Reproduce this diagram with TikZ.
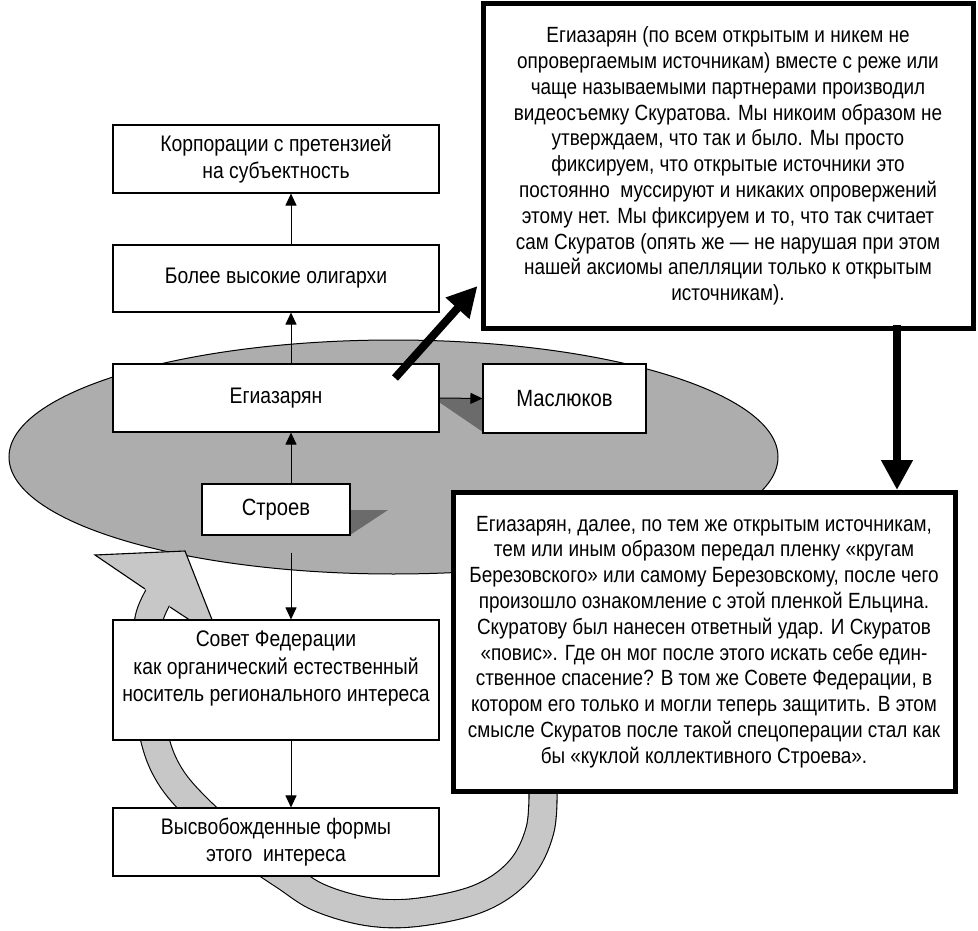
\documentclass[tikz,border=0pt]{standalone}
\usepackage{fontspec}
\setmainfont{Liberation Sans}[FakeStretch=0.86]
\usetikzlibrary{arrows.meta}
\definecolor{ellgray}{gray}{0.68}
\definecolor{bandgray}{gray}{0.78}
\definecolor{shadegray}{gray}{0.42}
\tikzset{
  box/.style={draw, fill=white, line width=1.1pt, minimum width=326pt, minimum height=68pt,
    align=center, inner sep=0pt, font=\fontsize{22.5}{27.5}\selectfont},
  note/.style={draw, fill=white, line width=5pt, align=center, inner sep=0pt,
    font=\fontsize{22}{25.8}\selectfont},
  link/.style={-{Triangle[length=12pt,width=11pt]}, line width=1pt},
  bigarrow/.style={-{Triangle[length=30pt,width=30pt]}, line width=8pt},
}
\begin{document}
\begin{tikzpicture}[x=1pt, y=-1pt]
  \useasboundingbox (0,0) rectangle (978,931);

  \draw[fill=ellgray, line width=1pt] (393.5,457) ellipse [x radius=384.5pt, y radius=117pt];

  % gray loop
  \draw[line width=1.1pt, double=bandgray, double distance=27pt]
    plot[smooth, tension=0.6] coordinates {(543,785) (540,830) (520,870) (480,898) (420,912)
      (370,912) (320,898) (285,876) (237,843) (197,808) (170,776) (155,740) (148,690)
      (147,645) (150,615) (162,590)};
  \fill[bandgray] (185,551) -- (95,555) -- (220,640) -- cycle;
  \draw[line width=1.1pt] (145,589) -- (95,555) -- (185,551) -- (220,640) -- (170,607);

  \fill[shadegray] (433,398) -- (483,398) -- (483,432) -- cycle;
  \fill[shadegray] (350,510) -- (388,510) -- (350,535) -- cycle;

  \node[box] (korp) at (276,159) {Корпорации с претензией\\на субъектность};
  \node[box, minimum height=67pt] (olig) at (276,278.5) {Более высокие олигархи};
  \node[box] (egiaz) at (276,398) {Егиазарян};
  \node[box, minimum width=163pt, minimum height=69pt, font=\fontsize{23.5}{27}\selectfont] (masl) at (564.5,398.5) {Маслюков};
  \node[box, minimum width=148pt, minimum height=51pt, font=\fontsize{23.5}{27}\selectfont] (stroev) at (276,509.5) {Строев};
  \node[box, minimum height=120pt] (sovet) at (276,680) {Совет Федерации\\как органический естественный\\носитель регионального интереса\\\mbox{}};
  \node[box] (vysv) at (276,842) {Высвобожденные формы\\этого\ \ интереса};

  \draw[link] ([xshift=15pt]olig.north) -- ([xshift=15pt]korp.south);
  \draw[link] ([xshift=15pt]egiaz.north) -- ([xshift=15pt]olig.south);
  \draw[link] ([xshift=15pt]stroev.north) -- ([xshift=15pt]egiaz.south);
  \draw[link, shorten <=17pt] ([xshift=15pt]stroev.south) -- ([xshift=15pt]sovet.north);
  \draw[link] ([xshift=15pt]sovet.south) -- ([xshift=15pt]vysv.north);
  \draw[link] (egiaz.east) -- (masl.west);

  \node[note, minimum width=490pt, minimum height=325pt] (note1) at (728,166) {Егиазарян (по всем открытым и никем не\\
    опровергаемым источникам) вместе с реже или\\
    чаще называемыми партнерами производил\\
    видеосъемку Скуратова. Мы никоим образом не\\
    утверждаем, что так и было. Мы просто\\
    фиксируем, что открытые источники это\\
    постоянно\ \ муссируют и никаких опровержений\\
    этому нет. Мы фиксируем и то, что так считает\\
    сам Скуратов (опять же — не нарушая при этом\\
    нашей аксиомы апелляции только к открытым\\
    источникам).};
  \node[note, minimum width=502pt, minimum height=299pt] (note2) at (704,642) {Егиазарян, далее, по тем же открытым источникам,\\
    тем или иным образом передал пленку «кругам\\
    Березовского» или самому Березовскому, после чего\\
    произошло ознакомление с этой пленкой Ельцина.\\
    Скуратову был нанесен ответный удар. И Скуратов\\
    «повис». Где он мог после этого искать себе един-\\
    ственное спасение? В том же Совете Федерации, в\\
    котором его только и могли теперь защитить. В этом\\
    смысле Скуратов после такой спецоперации стал как\\
    бы «куклой коллективного Строева».};

  \coordinate (egtail) at (395,378);
  \coordinate (n1tail) at (897,325);
  \draw[bigarrow] (egtail) -- ([xshift=-3pt, yshift=45pt]note1.south west);
  \draw[bigarrow] (n1tail) -- (n1tail |- note2.north);
\end{tikzpicture}
\end{document}
